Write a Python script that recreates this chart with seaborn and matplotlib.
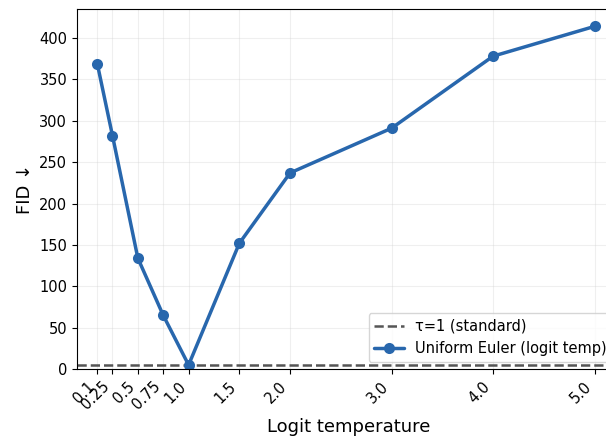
import matplotlib
matplotlib.use("Agg")
import matplotlib.pyplot as plt
import seaborn as sns
import pandas as pd

temps = [0.1, 0.25, 0.5, 0.75, 1.0, 1.5, 2.0, 3.0, 4.0, 5.0]
fid = [369, 282, 134, 65, 5, 152, 237, 291, 378, 414]
baseline = 5
tick_labels = ["0.1", "0.25", "0.5", "0.75", "1.0", "1.5", "2.0", "3.0", "4.0", "5.0"]

sns.set_style("ticks")
plt.rcParams['font.family'] = ['DejaVu Sans']

df = pd.DataFrame({"temp": temps, "fid": fid})

fig = plt.figure(figsize=(6.06, 4.41), dpi=100)
ax = fig.add_axes([0.127, 0.163, 0.896, 0.8166])

ax.axhline(baseline, color="#555555", linestyle="--", linewidth=1.8, label="τ=1 (standard)")
sns.lineplot(data=df, x="temp", y="fid", ax=ax, color="#2867ad", linewidth=2.5,
             marker="o", markersize=8, markeredgewidth=0, label="Uniform Euler (logit temp)")

ax.set_xticks(temps)
ax.set_xticklabels(tick_labels, rotation=45, ha="right", rotation_mode="default", fontsize=10.5)
ax.tick_params(axis="both", colors="black", labelcolor="black")
ax.tick_params(axis="y", labelsize=10.5)
ax.set_xlim(-0.1, 5.25)
ax.set_ylim(0, 435)
ax.set_xlabel("Logit temperature", fontsize=13, color="black")
ax.set_ylabel("FID ↓", fontsize=13, color="black")
ax.grid(True, alpha=0.3)
for s in ax.spines.values():
    s.set_color("black")
leg = ax.legend(loc="lower right", fontsize=10.5)
for t in leg.get_texts():
    t.set_color("black")

fig.savefig("out.png", dpi=100)
